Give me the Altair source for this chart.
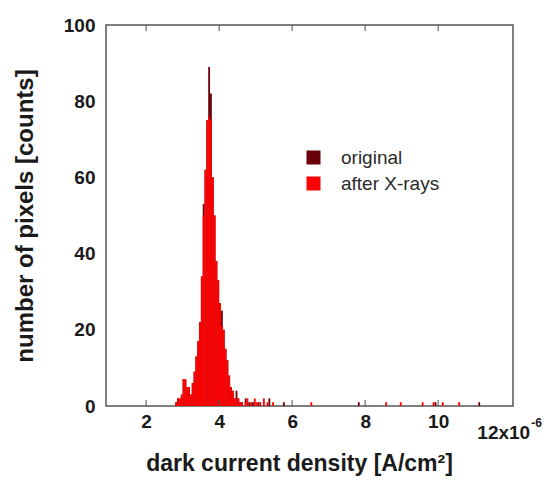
import altair as alt
import pandas as pd

# Histogram of pixel dark current density (units of 1e-6 A/cm^2), bin width 0.05
BIN = 0.05

# main body of the distribution, bin left edges
body_x = [2.80, 2.85, 2.90, 2.95, 3.00, 3.05, 3.10, 3.15, 3.20, 3.25,
          3.30, 3.35, 3.40, 3.45, 3.50, 3.55, 3.60, 3.65, 3.70, 3.75,
          3.80, 3.85, 3.90, 3.95, 4.00, 4.05, 4.10, 4.15, 4.20, 4.25,
          4.30, 4.35, 4.40, 4.45, 4.50, 4.55]
orig_body = [1, 2, 2, 3, 7, 7, 5, 5, 3, 6,
             9, 13, 17, 22, 34, 53, 62, 75, 89, 82,
             60, 50, 38, 33, 27, 25, 20, 15, 12, 8,
             5, 4, 2, 4, 2, 1]
xray_body = [1, 2, 2, 3, 7, 7, 5, 5, 3, 6,
             9, 13, 17, 22, 34, 50, 62, 75, 76, 75,
             60, 50, 38, 33, 27, 21, 20, 15, 12, 8,
             5, 4, 2, 2, 2, 1]

# sparse high-current tail
orig_tail_x = [4.60, 4.70, 4.80, 4.90, 5.05, 5.35, 5.75, 7.80, 9.90, 11.10]
orig_tail_n = [1, 2, 1, 1, 1, 2, 1, 1, 1, 1]
xray_tail_x = [4.60, 4.70, 4.75, 4.85, 4.95, 5.00, 5.10, 5.20, 5.30, 5.45,
               6.50, 8.55, 8.95, 9.55, 9.85, 10.10, 10.55]
xray_tail_n = [1, 1, 2, 1, 2, 1, 1, 2, 1, 1,
               1, 1, 1, 1, 1, 1, 1]

series_names = ["original", "after X-rays"]
series_colors = ["#6a0008", "#ff0000"]

x_ticks = [2, 4, 6, 8, 10]
y_ticks = [0, 20, 40, 60, 80, 100]

orig_df = pd.DataFrame({"start": body_x + orig_tail_x,
                        "count": orig_body + orig_tail_n,
                        "series": series_names[0]})
xray_df = pd.DataFrame({"start": body_x + xray_tail_x,
                        "count": xray_body + xray_tail_n,
                        "series": series_names[1]})

FONT = "Liberation Sans"
INK = "#1a1a1a"
FRAME = "#555555"

x_scale = alt.Scale(domain=[0.9, 12.05], nice=False, zero=False)
y_scale = alt.Scale(domain=[0, 100], nice=False)
color_scale = alt.Scale(domain=series_names, range=series_colors)

x_axis = alt.Axis(values=x_ticks, format="d", domain=False, ticks=False,
                  grid=False, labelFont=FONT, labelFontSize=19,
                  labelFontWeight="bold", labelColor=INK, labelPadding=6,
                  title="dark current density [A/cm²]", titleFont=FONT,
                  titleFontSize=23, titleFontWeight="bold",
                  titleColor=INK, titlePadding=21, titleX=193)
y_axis = alt.Axis(values=y_ticks, domain=False, ticks=False, grid=False,
                  labelFont=FONT, labelFontSize=19, labelFontWeight="bold",
                  labelColor=INK, labelPadding=11,
                  title="number of pixels [counts]", titleFont=FONT,
                  titleFontSize=24, titleFontWeight="bold",
                  titleColor=INK, titlePadding=26)

legend = alt.Legend(
    title=None, orient="none", legendX=198, legendY=123,
    symbolType="square", symbolSize=196, symbolStrokeWidth=0,
    symbolOpacity=1, labelFont=FONT, labelFontSize=19,
    labelColor="#2a2a2a", labelOffset=18, rowPadding=6, padding=0
)


def hist_layer(df):
    return alt.Chart(df).transform_calculate(
        end=f"datum.start + {BIN}"
    ).mark_bar(strokeWidth=0).encode(
        x=alt.X("start:Q", scale=x_scale, axis=x_axis),
        x2="end:Q",
        y=alt.Y("count:Q", scale=y_scale, axis=y_axis, stack=None),
        y2=alt.datum(0),
        color=alt.Color("series:N", scale=color_scale, legend=legend),
    )


def pos_x(field):
    return alt.X(field, scale=x_scale, axis=x_axis)


def pos_y(value):
    return alt.Y(datum=value, type="quantitative", scale=y_scale, axis=y_axis)


ticks_df = pd.DataFrame({"start": x_ticks})
bottom_ticks = alt.Chart(ticks_df).mark_tick(
    orient="vertical", size=6, thickness=1.5, color=FRAME, yOffset=-3
).encode(x=pos_x("start:Q"), y=pos_y(0))
top_ticks = alt.Chart(ticks_df).mark_tick(
    orient="vertical", size=6, thickness=1.5, color=FRAME, yOffset=3
).encode(x=pos_x("start:Q"), y=pos_y(100))

# last x label carries the unit multiplier
mult_df = pd.DataFrame({"start": [12]})
mult_text = alt.Chart(mult_df).mark_text(
    text="12x10", font=FONT, fontSize=19, fontWeight="bold", color=INK,
    align="right", baseline="middle", dx=19, dy=27
).encode(x=pos_x("start:Q"), y=pos_y(0))
exp_text = alt.Chart(mult_df).mark_text(
    text="-6", font=FONT, fontSize=12, fontWeight="bold", color=INK,
    align="left", baseline="middle", dx=20, dy=17
).encode(x=pos_x("start:Q"), y=pos_y(0))

chart = alt.layer(
    hist_layer(orig_df),
    hist_layer(xray_df),
    bottom_ticks, top_ticks, mult_text, exp_text,
).properties(
    width=407, height=381,
    autosize=alt.AutoSizeParams(type="none"),
    padding={"left": 106, "top": 25, "right": 39, "bottom": 84},
    background="white",
).configure_view(
    stroke=FRAME, strokeWidth=1.5
)

chart.save("out.html", embed_options={"renderer": "svg", "actions": False})
